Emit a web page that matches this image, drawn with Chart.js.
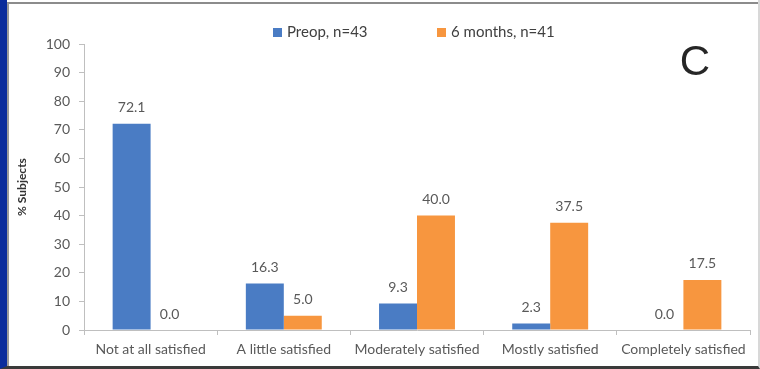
<!DOCTYPE html>
<html>
<head>
<meta charset="utf-8">
<script src="https://cdn.jsdelivr.net/npm/chart.js@4/dist/chart.umd.min.js"></script>
<style>
  html, body { margin: 0; padding: 0; background: #fff; }
  #frame {
    width: 760px; height: 369px; box-sizing: border-box;
    border-left: 7px solid #0a2c9c; border-bottom: 3px solid #3a3a3a;
    border-right: 2px solid #d8d8d8; padding-top: 2px; background: #fff;
  }
  #inner {
    width: 100%; height: 100%; box-sizing: border-box; position: relative;
    border-top: 2px solid #8c8c8c; border-left: 2px solid #9a9a9a;
  }
</style>
</head>
<body>
<div id="frame"><div id="inner"><canvas id="cchart"></canvas></div></div>
<script>
const categories = ['Not at all satisfied', 'A little satisfied', 'Moderately satisfied', 'Mostly satisfied', 'Completely satisfied'];
const preop = [72.1, 16.3, 9.3, 2.3, 0.0];
const sixMonths = [0.0, 5.0, 40.0, 37.5, 17.5];
const seriesNames = ['Preop, n=43', '6 months, n=41'];
const yTicks = { min: 0, max: 100, step: 10 };
const panelLetter = 'C';

const FONT = "Lato, 'Open Sans', sans-serif";
const TXT = '#595959';

// value labels, legend and panel letter
const extras = {
  id: 'extras',
  afterDatasetsDraw(chart) {
    const ctx = chart.ctx;
    ctx.save();
    ctx.font = '14px ' + FONT;
    ctx.fillStyle = TXT;
    ctx.textAlign = 'center';
    ctx.textBaseline = 'bottom';
    chart.data.datasets.forEach((ds, i) => {
      chart.getDatasetMeta(i).data.forEach((bar, j) => {
        ctx.fillText(ds.data[j].toFixed(1), bar.x, bar.y - 9);
      });
    });

    // legend
    const legendX = [264, 428];
    ctx.font = '15px ' + FONT;
    ctx.textAlign = 'left';
    ctx.textBaseline = 'middle';
    chart.data.datasets.forEach((ds, i) => {
      ctx.fillStyle = ds.backgroundColor;
      ctx.fillRect(legendX[i], 24, 9, 9);
      ctx.fillStyle = '#404040';
      ctx.fillText(ds.label, legendX[i] + 14, 28);
    });

    ctx.font = "42px 'Liberation Sans', Arial, sans-serif";
    ctx.fillStyle = '#262626';
    ctx.textAlign = 'center';
    ctx.fillText(panelLetter, 686, 59);
    ctx.restore();
  },
};

let chart = null;
let drawChart = () => {
  const ctx = document.getElementById('cchart');
  if (chart) chart.destroy();

  Chart.defaults.font.family = FONT;
  Chart.defaults.font.size = 14;
  Chart.defaults.color = TXT;
  chart = new Chart(ctx, {
    type: 'bar',
    data: {
      labels: categories,
      datasets: [
        { label: seriesNames[0], data: preop, backgroundColor: '#4a7cc4' },
        { label: seriesNames[1], data: sixMonths, backgroundColor: '#f7963f' },
      ],
    },
    plugins: [extras],
    options: {
      animation: false,
      responsive: true,
      maintainAspectRatio: false,
      layout: { padding: { top: 40, right: 8, left: 0, bottom: 0 } },
      datasets: { bar: { barPercentage: 1, categoryPercentage: 0.57 } },
      plugins: { legend: { display: false }, tooltip: { enabled: false } },
      scales: {
        x: {
          afterFit: (s) => { s.height = 36; },
          ticks: { color: TXT, padding: 6, font: { size: 14 } },
          grid: { drawOnChartArea: false, tickLength: 5, color: '#bfbfbf' },
          border: { color: '#bfbfbf' },
        },
        y: {
          min: yTicks.min,
          max: yTicks.max,
          afterFit: (s) => { s.width = 75; },
          ticks: { stepSize: yTicks.step, color: TXT, padding: 9, font: { size: 14 } },
          grid: { drawOnChartArea: false, tickLength: 5, color: '#bfbfbf' },
          border: { color: '#bfbfbf' },
          title: {
            display: true,
            text: '% Subjects',
            color: '#333',
            font: { size: 12, weight: 'bold' },
            padding: { top: 6, bottom: 0 },
          },
        },
      },
    },
  });
};

drawChart();
window.onresize = () => {
  drawChart();
};
</script>
</body>
</html>
